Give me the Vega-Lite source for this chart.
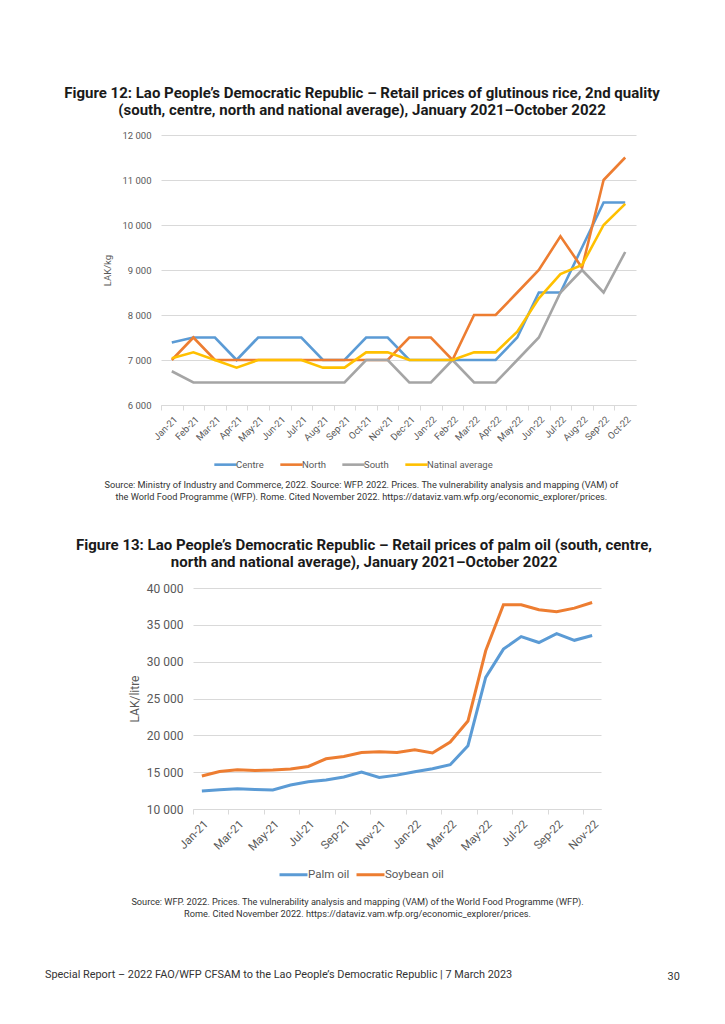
{
  "$schema": "https://vega.github.io/schema/vega-lite/v6.json",
  "background": "white",
  "padding": {"left": 45, "top": 86, "right": 5, "bottom": 5},
  "config": {
    "font": "Roboto",
    "view": {"stroke": null},
    "axis": {"labelColor": "#595959", "titleColor": "#595959", "gridColor": "#d9d9d9", "domainColor": "#d9d9d9", "tickColor": "#d9d9d9", "titleFontWeight": "normal"},
    "legend": {"labelColor": "#595959", "padding": 0}
  },
  "resolve": {"scale": {"color": "independent"}, "legend": {"color": "independent"}},
  "title": {"text": "Special Report – 2022 FAO/WFP CFSAM to the Lao People’s Democratic Republic | 7 March 2023", "orient": "bottom", "anchor": "start", "frame": "bounds", "fontSize": 10.9, "fontWeight": "normal", "color": "#333333", "offset": -13, "dx": -18},
  "vconcat": [
    {
      "title": {"text": "30", "orient": "bottom", "anchor": "end", "frame": "bounds", "fontSize": 10.9, "fontWeight": "normal", "color": "#333333", "offset": 52, "dx": 20},
      "resolve": {"scale": {"color": "independent"}, "legend": {"color": "independent"}},
      "spacing": 35,
      "vconcat": [
        {
          "title": {"text": ["Source: Ministry of Industry and Commerce, 2022. Source: WFP. 2022. Prices. The vulnerability analysis and mapping (VAM) of", "the World Food Programme (WFP). Rome. Cited November 2022. https://dataviz.vam.wfp.org/economic_explorer/prices."], "orient": "bottom", "anchor": "middle", "frame": "bounds", "fontSize": 9.2, "fontWeight": "normal", "color": "#333333", "lineHeight": 12, "offset": 11},
          "resolve": {"scale": {"color": "independent"}, "legend": {"color": "independent"}},
          "spacing": 0,
          "hconcat": [
            {"width": 1, "height": 1, "data": {"values": []}, "mark": "point", "encoding": {}},
            {
              "width": 475,
              "height": 270,
              "title": {"text": ["Figure 12: Lao People’s Democratic Republic – Retail prices of glutinous rice, 2nd quality", "(south, centre, north and national average), January 2021–October 2022"], "fontSize": 15, "fontWeight": "bold", "color": "#1a1a1a", "anchor": "middle", "frame": "group", "dx": -36.5, "offset": 12, "lineHeight": 17},
              "data": {"values": [
                {"month": "Jan-21", "series": "Centre", "price": 7390}, {"month": "Feb-21", "series": "Centre", "price": 7500}, {"month": "Mar-21", "series": "Centre", "price": 7500}, {"month": "Apr-21", "series": "Centre", "price": 7000}, {"month": "May-21", "series": "Centre", "price": 7500}, {"month": "Jun-21", "series": "Centre", "price": 7500}, {"month": "Jul-21", "series": "Centre", "price": 7500}, {"month": "Aug-21", "series": "Centre", "price": 7000}, {"month": "Sep-21", "series": "Centre", "price": 7000}, {"month": "Oct-21", "series": "Centre", "price": 7500}, {"month": "Nov-21", "series": "Centre", "price": 7500}, {"month": "Dec-21", "series": "Centre", "price": 7000}, {"month": "Jan-22", "series": "Centre", "price": 7000}, {"month": "Feb-22", "series": "Centre", "price": 7000}, {"month": "Mar-22", "series": "Centre", "price": 7000}, {"month": "Apr-22", "series": "Centre", "price": 7000}, {"month": "May-22", "series": "Centre", "price": 7500}, {"month": "Jun-22", "series": "Centre", "price": 8500}, {"month": "Jul-22", "series": "Centre", "price": 8500}, {"month": "Aug-22", "series": "Centre", "price": 9500}, {"month": "Sep-22", "series": "Centre", "price": 10500}, {"month": "Oct-22", "series": "Centre", "price": 10500},
                {"month": "Jan-21", "series": "North", "price": 7000}, {"month": "Feb-21", "series": "North", "price": 7500}, {"month": "Mar-21", "series": "North", "price": 7000}, {"month": "Apr-21", "series": "North", "price": 7000}, {"month": "May-21", "series": "North", "price": 7000}, {"month": "Jun-21", "series": "North", "price": 7000}, {"month": "Jul-21", "series": "North", "price": 7000}, {"month": "Aug-21", "series": "North", "price": 7000}, {"month": "Sep-21", "series": "North", "price": 7000}, {"month": "Oct-21", "series": "North", "price": 7000}, {"month": "Nov-21", "series": "North", "price": 7000}, {"month": "Dec-21", "series": "North", "price": 7500}, {"month": "Jan-22", "series": "North", "price": 7500}, {"month": "Feb-22", "series": "North", "price": 7000}, {"month": "Mar-22", "series": "North", "price": 8000}, {"month": "Apr-22", "series": "North", "price": 8000}, {"month": "May-22", "series": "North", "price": 8500}, {"month": "Jun-22", "series": "North", "price": 9000}, {"month": "Jul-22", "series": "North", "price": 9750}, {"month": "Aug-22", "series": "North", "price": 9050}, {"month": "Sep-22", "series": "North", "price": 11000}, {"month": "Oct-22", "series": "North", "price": 11500},
                {"month": "Jan-21", "series": "South", "price": 6750}, {"month": "Feb-21", "series": "South", "price": 6500}, {"month": "Mar-21", "series": "South", "price": 6500}, {"month": "Apr-21", "series": "South", "price": 6500}, {"month": "May-21", "series": "South", "price": 6500}, {"month": "Jun-21", "series": "South", "price": 6500}, {"month": "Jul-21", "series": "South", "price": 6500}, {"month": "Aug-21", "series": "South", "price": 6500}, {"month": "Sep-21", "series": "South", "price": 6500}, {"month": "Oct-21", "series": "South", "price": 7000}, {"month": "Nov-21", "series": "South", "price": 7000}, {"month": "Dec-21", "series": "South", "price": 6500}, {"month": "Jan-22", "series": "South", "price": 6500}, {"month": "Feb-22", "series": "South", "price": 7000}, {"month": "Mar-22", "series": "South", "price": 6500}, {"month": "Apr-22", "series": "South", "price": 6500}, {"month": "May-22", "series": "South", "price": 7000}, {"month": "Jun-22", "series": "South", "price": 7500}, {"month": "Jul-22", "series": "South", "price": 8500}, {"month": "Aug-22", "series": "South", "price": 9000}, {"month": "Sep-22", "series": "South", "price": 8500}, {"month": "Oct-22", "series": "South", "price": 9400},
                {"month": "Jan-21", "series": "Natinal average", "price": 7040}, {"month": "Feb-21", "series": "Natinal average", "price": 7170}, {"month": "Mar-21", "series": "Natinal average", "price": 7000}, {"month": "Apr-21", "series": "Natinal average", "price": 6830}, {"month": "May-21", "series": "Natinal average", "price": 7000}, {"month": "Jun-21", "series": "Natinal average", "price": 7000}, {"month": "Jul-21", "series": "Natinal average", "price": 7000}, {"month": "Aug-21", "series": "Natinal average", "price": 6830}, {"month": "Sep-21", "series": "Natinal average", "price": 6830}, {"month": "Oct-21", "series": "Natinal average", "price": 7170}, {"month": "Nov-21", "series": "Natinal average", "price": 7170}, {"month": "Dec-21", "series": "Natinal average", "price": 7000}, {"month": "Jan-22", "series": "Natinal average", "price": 7000}, {"month": "Feb-22", "series": "Natinal average", "price": 7000}, {"month": "Mar-22", "series": "Natinal average", "price": 7170}, {"month": "Apr-22", "series": "Natinal average", "price": 7170}, {"month": "May-22", "series": "Natinal average", "price": 7630}, {"month": "Jun-22", "series": "Natinal average", "price": 8370}, {"month": "Jul-22", "series": "Natinal average", "price": 8910}, {"month": "Aug-22", "series": "Natinal average", "price": 9110}, {"month": "Sep-22", "series": "Natinal average", "price": 10000}, {"month": "Oct-22", "series": "Natinal average", "price": 10470}
              ]},
              "mark": {"type": "line", "strokeWidth": 2.6},
              "encoding": {
                "x": {"field": "month", "type": "ordinal", "sort": null, "title": null, "scale": {"type": "point", "padding": 0.5},
                      "axis": {"labelAngle": -45, "labelFontSize": 9.5, "labelPadding": 4, "tickSize": 5, "tickOffset": -10.8, "labelOffset": 10.8, "domain": true, "grid": false}},
                "y": {"field": "price", "type": "quantitative", "title": "LAK/kg", "scale": {"domain": [6000, 12000], "nice": false, "zero": false},
                      "axis": {"values": [6000, 7000, 8000, 9000, 10000, 11000, 12000], "labelExpr": "replace(format(datum.value, ','), ',', ' ')", "labelFontSize": 9.5, "labelPadding": 10, "ticks": false, "domain": false, "titleFontSize": 9.5, "titlePadding": 9}},
                "color": {"field": "series", "type": "nominal", "scale": {"domain": ["Centre", "North", "South", "Natinal average"], "range": ["#5B9BD5", "#ED7D31", "#A5A5A5", "#FFC000"]},
                          "legend": {"title": null, "orient": "none", "direction": "horizontal", "legendX": 52, "legendY": 317, "symbolType": "stroke", "symbolSize": 500, "symbolStrokeWidth": 2.6, "labelFontSize": 9.5, "labelOffset": -2, "columnPadding": 11}}
              }
            }
          ]
        },
        {
          "title": {"text": ["Source: WFP. 2022. Prices. The vulnerability analysis and mapping (VAM) of the World Food Programme (WFP).", "Rome. Cited November 2022. https://dataviz.vam.wfp.org/economic_explorer/prices."], "orient": "bottom", "anchor": "middle", "frame": "bounds", "fontSize": 9.2, "fontWeight": "normal", "color": "#333333", "lineHeight": 12, "offset": 17},
          "resolve": {"scale": {"color": "independent"}, "legend": {"color": "independent"}},
          "spacing": 0,
          "hconcat": [
            {"width": 13, "height": 1, "data": {"values": []}, "mark": "point", "encoding": {}},
            {
              "width": 408,
              "height": 221,
              "title": {"text": ["Figure 13: Lao People’s Democratic Republic – Retail prices of palm oil (south, centre,", "north and national average), January 2021–October 2022"], "fontSize": 15, "fontWeight": "bold", "color": "#1a1a1a", "anchor": "middle", "frame": "group", "dx": -33, "offset": 12, "lineHeight": 17},
              "data": {"values": [
                {"month": "Jan-21", "series": "Palm oil", "price": 12440}, {"month": "Feb-21", "series": "Palm oil", "price": 12600}, {"month": "Mar-21", "series": "Palm oil", "price": 12750}, {"month": "Apr-21", "series": "Palm oil", "price": 12650}, {"month": "May-21", "series": "Palm oil", "price": 12580}, {"month": "Jun-21", "series": "Palm oil", "price": 13260}, {"month": "Jul-21", "series": "Palm oil", "price": 13700}, {"month": "Aug-21", "series": "Palm oil", "price": 13950}, {"month": "Sep-21", "series": "Palm oil", "price": 14340}, {"month": "Oct-21", "series": "Palm oil", "price": 15020}, {"month": "Nov-21", "series": "Palm oil", "price": 14290}, {"month": "Dec-21", "series": "Palm oil", "price": 14600}, {"month": "Jan-22", "series": "Palm oil", "price": 15060}, {"month": "Feb-22", "series": "Palm oil", "price": 15470}, {"month": "Mar-22", "series": "Palm oil", "price": 16010}, {"month": "Apr-22", "series": "Palm oil", "price": 18600}, {"month": "May-22", "series": "Palm oil", "price": 27860}, {"month": "Jun-22", "series": "Palm oil", "price": 31700}, {"month": "Jul-22", "series": "Palm oil", "price": 33400}, {"month": "Aug-22", "series": "Palm oil", "price": 32600}, {"month": "Sep-22", "series": "Palm oil", "price": 33800}, {"month": "Oct-22", "series": "Palm oil", "price": 32900}, {"month": "Nov-22", "series": "Palm oil", "price": 33550},
                {"month": "Jan-21", "series": "Soybean oil", "price": 14480}, {"month": "Feb-21", "series": "Soybean oil", "price": 15100}, {"month": "Mar-21", "series": "Soybean oil", "price": 15330}, {"month": "Apr-21", "series": "Soybean oil", "price": 15240}, {"month": "May-21", "series": "Soybean oil", "price": 15290}, {"month": "Jun-21", "series": "Soybean oil", "price": 15420}, {"month": "Jul-21", "series": "Soybean oil", "price": 15780}, {"month": "Aug-21", "series": "Soybean oil", "price": 16820}, {"month": "Sep-21", "series": "Soybean oil", "price": 17140}, {"month": "Oct-21", "series": "Soybean oil", "price": 17680}, {"month": "Nov-21", "series": "Soybean oil", "price": 17770}, {"month": "Dec-21", "series": "Soybean oil", "price": 17680}, {"month": "Jan-22", "series": "Soybean oil", "price": 18050}, {"month": "Feb-22", "series": "Soybean oil", "price": 17600}, {"month": "Mar-22", "series": "Soybean oil", "price": 19090}, {"month": "Apr-22", "series": "Soybean oil", "price": 21940}, {"month": "May-22", "series": "Soybean oil", "price": 31480}, {"month": "Jun-22", "series": "Soybean oil", "price": 37720}, {"month": "Jul-22", "series": "Soybean oil", "price": 37720}, {"month": "Aug-22", "series": "Soybean oil", "price": 37040}, {"month": "Sep-22", "series": "Soybean oil", "price": 36770}, {"month": "Oct-22", "series": "Soybean oil", "price": 37270}, {"month": "Nov-22", "series": "Soybean oil", "price": 38030}
              ]},
              "mark": {"type": "line", "strokeWidth": 3},
              "encoding": {
                "x": {"field": "month", "type": "ordinal", "sort": null, "title": null, "scale": {"type": "point", "padding": 0.5},
                      "axis": {"values": ["Jan-21", "Mar-21", "May-21", "Jul-21", "Sep-21", "Nov-21", "Jan-22", "Mar-22", "May-22", "Jul-22", "Sep-22", "Nov-22"], "labelAngle": -45, "labelFontSize": 11.5, "labelPadding": 4, "tickSize": 5, "tickOffset": -8.87, "labelOffset": 8.87, "domain": true, "grid": false}},
                "y": {"field": "price", "type": "quantitative", "title": "LAK/litre", "scale": {"domain": [10000, 40000], "nice": false, "zero": false},
                      "axis": {"values": [10000, 15000, 20000, 25000, 30000, 35000, 40000], "labelExpr": "replace(format(datum.value, ','), ',', ' ')", "labelFontSize": 12, "labelPadding": 10, "ticks": false, "domain": false, "titleFontSize": 12, "titlePadding": 5}},
                "color": {"field": "series", "type": "nominal", "scale": {"domain": ["Palm oil", "Soybean oil"], "range": ["#5B9BD5", "#ED7D31"]},
                          "legend": {"title": null, "orient": "none", "direction": "horizontal", "legendX": 85, "legendY": 271, "symbolType": "stroke", "symbolSize": 784, "symbolStrokeWidth": 3, "labelFontSize": 11.5, "labelOffset": -1, "columnPadding": 0}}
              }
            }
          ]
        }
      ]
    }
  ]
}
